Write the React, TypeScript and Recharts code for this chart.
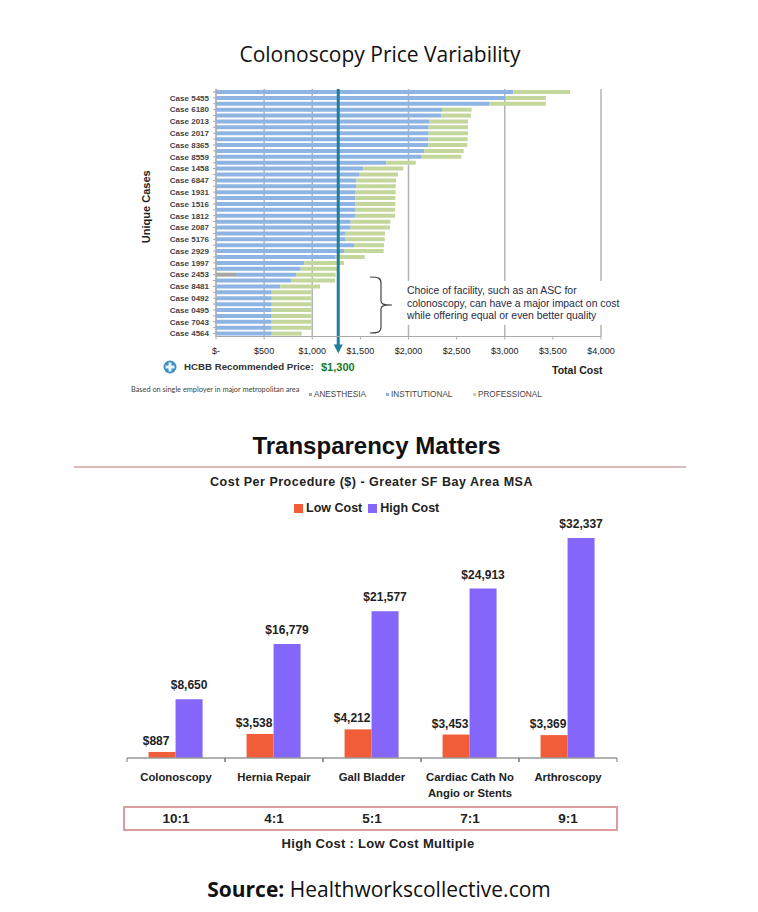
import React from 'react';
import {
  BarChart,
  Bar,
  XAxis,
  YAxis,
  CartesianGrid,
  Legend,
  LabelList,
  ReferenceLine,
  Text,
} from 'recharts';

// top chart: 42 rows, only every second one is labelled
const caseLabels = [
  'Case 5455', 'Case 6180', 'Case 2013', 'Case 2017', 'Case 8365', 'Case 8559', 'Case 1458',
  'Case 6847', 'Case 1931', 'Case 1516', 'Case 1812', 'Case 2087', 'Case 5176', 'Case 2929',
  'Case 1997', 'Case 2453', 'Case 8481', 'Case 0492', 'Case 0495', 'Case 7043', 'Case 4564',
];
const institutional = [
  3089, 3010, 2837, 2348, 2341, 2213, 2210, 2210, 2206, 2206, 2164, 2137, 1769, 1530,
  1486, 1458, 1455, 1451, 1448, 1448, 1444, 1444, 1399, 1399, 1347, 1340, 1434, 1330,
  1243, 917, 880, 623, 779, 668, 579, 579, 579, 579, 579, 579, 579, 579,
];
const professional = [
  589, 419, 589, 308, 308, 405, 408, 408, 409, 405, 409, 412, 306, 416,
  405, 412, 412, 416, 415, 415, 416, 416, 412, 409, 409, 413, 311, 412,
  302, 413, 380, 412, 457, 413, 415, 415, 415, 415, 415, 415, 415, 311,
];
const anesthesia = [
  0, 0, 0, 0, 0, 0, 0, 0, 0, 0, 0, 0, 0, 0,
  0, 0, 0, 0, 0, 0, 0, 0, 0, 0, 0, 0, 0, 0,
  0, 0, 0, 208, 0, 0, 0, 0, 0, 0, 0, 0, 0, 0,
];
const costTicks = [0, 500, 1000, 1500, 2000, 2500, 3000, 3500, 4000];
const arrowAt = 1270;

// bottom chart
const procedures = ['Colonoscopy', 'Hernia Repair', 'Gall Bladder', 'Cardiac Cath No Angio or Stents', 'Arthroscopy'];
const lowCost = [887, 3538, 4212, 3453, 3369];
const highCost = [8650, 16779, 21577, 24913, 32337];
const multiples = ['10:1', '4:1', '5:1', '7:1', '9:1'];

const caseData = institutional.map((value, i) => ({
  label: i % 2 === 1 ? caseLabels[(i - 1) / 2] : '',
  anesthesia: anesthesia[i],
  institutional: value,
  professional: professional[i],
}));

const procedureData = procedures.map((name, i) => ({
  name,
  low: lowCost[i],
  high: highCost[i],
}));

const ARIAL = '"Liberation Sans", Arial, sans-serif';
const BAND = 98;

const money = (v: number) => `$${v.toLocaleString('en-US')}`;

function abs(left: number, top: number, extra: React.CSSProperties = {}): React.CSSProperties {
  return { position: 'absolute', left, top, whiteSpace: 'nowrap', ...extra };
}

// line running past the axis, ending in an arrow head
function ArrowLine(props: any) {
  const { x1, y1, y2 } = props;
  const top = Math.min(y1, y2);
  const bottom = Math.max(y1, y2);
  return (
    <g>
      <line x1={x1} x2={x1} y1={top} y2={bottom + 9} stroke="#1f7f9b" strokeWidth={3} />
      <polygon points={`${x1 - 4.5},${bottom + 8} ${x1 + 4.5},${bottom + 8} ${x1},${bottom + 17}`} fill="#1f7f9b" />
    </g>
  );
}

function CaseLegend(props: any) {
  const offsets = [0, 77, 164];
  return (
    <div style={{ position: 'relative', height: 10, width: 240 }}>
      {props.payload.map((item: any, i: number) => (
        <span key={item.value} style={abs(offsets[i], 0, { fontSize: 8.2, lineHeight: '10px', color: '#444' })}>
          <span style={{ display: 'inline-block', width: 3, height: 3, background: item.color, marginRight: 2, verticalAlign: 'middle' }} />
          {item.value}
        </span>
      ))}
    </div>
  );
}

function ProcedureLegend(props: any) {
  return (
    <div style={{ display: 'flex', fontSize: 12.5, fontWeight: 700, lineHeight: '14px', color: '#222' }}>
      {props.payload.map((item: any) => (
        <span key={item.value} style={{ display: 'flex', alignItems: 'center', marginRight: 6 }}>
          <span style={{ width: 9, height: 9, background: item.color, marginRight: 3 }} />
          {item.value}
        </span>
      ))}
    </div>
  );
}

// tick marks sit on the band edges, so they are drawn with the label
function ProcedureTick(props: any) {
  const { x, y, payload } = props;
  return (
    <g>
      <line x1={x - BAND / 2} x2={x - BAND / 2} y1={y - 8} y2={y - 4} stroke="#777" />
      <line x1={x + BAND / 2} x2={x + BAND / 2} y1={y - 8} y2={y - 4} stroke="#777" />
      <Text
        x={x}
        y={y + 7}
        width={112}
        textAnchor="middle"
        verticalAnchor="start"
        lineHeight={16}
        fontSize={11.3}
        fontWeight={700}
        fill="#222"
      >
        {payload.value}
      </Text>
    </g>
  );
}

export default function App() {
  return (
    <div style={{ position: 'absolute', left: 0, top: 0, width: 758, height: 912, background: '#fff', fontFamily: ARIAL, overflow: 'hidden' }}>
      <div style={abs(0, 40, { width: 760, textAlign: 'center', fontFamily: '"Open Sans"', fontSize: 21, lineHeight: '28px', color: '#111' })}>
        Colonoscopy Price Variability
      </div>

      <div style={abs(0, 0)}>
        <BarChart
          width={758}
          height={400}
          data={caseData}
          layout="vertical"
          barSize={4}
          margin={{ top: 89, right: 157, bottom: 33.5, left: 136 }}
        >
          <CartesianGrid horizontal={false} stroke="#b4b4b4" strokeWidth={1.5} />
          <XAxis
            type="number"
            domain={[0, 4000]}
            ticks={costTicks}
            height={30}
            tickFormatter={(v: number) => (v === 0 ? '$-' : money(v))}
            tick={{ fontSize: 9, fill: '#222' }}
            tickSize={3}
            tickMargin={8}
            stroke="#aaa"
          />
          <YAxis
            type="category"
            dataKey="label"
            width={80}
            interval={0}
            tick={{ fontSize: 8, fontWeight: 700, fill: '#444' }}
            tickSize={3}
            tickMargin={4}
            stroke="#aaa"
            label={{ value: 'Unique Cases', angle: -90, position: 'insideLeft', offset: 10, dy: -6, fontSize: 11, fontWeight: 700, fill: '#222', style: { textAnchor: 'middle' } }}
          />
          <Legend
            layout="horizontal"
            verticalAlign="middle"
            align="center"
            itemSorter={null}
            content={CaseLegend}
            wrapperStyle={{ left: 309, top: 390, width: 240 }}
          />
          <Bar dataKey="anesthesia" name="ANESTHESIA" stackId="cost" fill="#a6a6a6" isAnimationActive={false} />
          <Bar dataKey="institutional" name="INSTITUTIONAL" stackId="cost" fill="#8eb4e3" isAnimationActive={false} />
          <Bar dataKey="professional" name="PROFESSIONAL" stackId="cost" fill="#c3d69b" isAnimationActive={false} />
          <ReferenceLine x={arrowAt} ifOverflow="visible" shape={ArrowLine} />
        </BarChart>
      </div>

      {/* annotation box hides the gridlines behind its text */}
      <div style={abs(400, 281, { width: 226, height: 44, background: '#fff' })} />
      <div style={abs(407, 285, { fontSize: 10.4, lineHeight: '12.5px', color: '#1f2a44' })}>
        Choice of facility, such as an ASC for
        <br />
        colonoscopy, can have a major impact on cost
        <br />
        while offering equal or even better quality
      </div>
      <svg style={abs(368, 275)} width={26} height={60}>
        <path d="M2 2 C10 2 13 3 13 8 L13 26 C13 29 15 30 24 30 C15 30 13 31 13 34 L13 52 C13 57 10 58 2 58" fill="none" stroke="#444" strokeWidth={1.2} />
      </svg>

      <svg style={abs(163, 360)} width={14} height={14}>
        <circle cx={7} cy={7} r={6.5} fill="#3d8fc4" />
        <path d="M7 2.5 V11.5 M2.5 7 H11.5" stroke="#e4f2fa" strokeWidth={3} />
      </svg>
      <div style={abs(184, 360, { fontSize: 9.7, lineHeight: '14px', fontWeight: 700, color: '#333' })}>HCBB Recommended Price:</div>
      <div style={abs(321, 360, { fontSize: 11, lineHeight: '14px', fontWeight: 700, color: '#1c7a1c' })}>$1,300</div>
      <div style={abs(552, 364, { fontSize: 10.5, lineHeight: '13px', fontWeight: 700, color: '#222' })}>Total Cost</div>
      <div style={abs(131, 386, { fontFamily: 'Lato', fontSize: 7.35, lineHeight: '8px', color: '#444' })}>
        Based on single employer in major metropolitan area
      </div>

      <div style={abs(0, 431, { width: 753, textAlign: 'center', fontSize: 24, lineHeight: '30px', fontWeight: 700, color: '#111' })}>
        Transparency Matters
      </div>
      <div style={abs(74, 466, { width: 612, height: 2, background: '#dcb9b9' })} />
      <div style={abs(0, 475, { width: 743, textAlign: 'center', fontSize: 12.5, lineHeight: '14px', fontWeight: 700, letterSpacing: 0.5, color: '#222' })}>
        Cost Per Procedure ($) - Greater SF Bay Area MSA
      </div>

      <div style={abs(0, 400)}>
        <BarChart
          width={758}
          height={440}
          data={procedureData}
          barCategoryGap="22%"
          barGap={0}
          margin={{ top: 86, right: 141, bottom: 42, left: 127 }}
        >
          <XAxis dataKey="name" height={40} interval={0} tick={ProcedureTick} tickLine={false} stroke="#999" strokeWidth={1.5} />
          <YAxis hide domain={[0, 40000]} />
          <Legend
            layout="horizontal"
            verticalAlign="middle"
            align="center"
            itemSorter={null}
            content={ProcedureLegend}
            wrapperStyle={{ left: 294, top: 101, width: 160 }}
          />
          <Bar dataKey="low" name="Low Cost" fill="#f15d38" isAnimationActive={false}>
            <LabelList dataKey="low" position="top" dx={-6} offset={7} formatter={money} fontSize={12} fontWeight={700} fill="#222" />
          </Bar>
          <Bar dataKey="high" name="High Cost" fill="#8566fb" isAnimationActive={false}>
            <LabelList dataKey="high" position="top" offset={10} formatter={money} fontSize={12} fontWeight={700} fill="#222" />
          </Bar>
        </BarChart>
      </div>

      <div style={abs(123, 806, { width: 495, height: 25, boxSizing: 'border-box', border: '2px solid #dd9ca0' })} />
      {multiples.map((m, i) => (
        <div key={m} style={abs(127 + BAND * i, 811, { width: BAND, textAlign: 'center', fontSize: 13.5, lineHeight: '16px', fontWeight: 700, color: '#222' })}>
          {m}
        </div>
      ))}
      <div style={abs(0, 836, { width: 756, textAlign: 'center', fontSize: 13, lineHeight: '16px', fontWeight: 700, letterSpacing: 0.3, color: '#222' })}>
        High Cost : Low Cost Multiple
      </div>
      <div style={abs(0, 875, { width: 758, textAlign: 'center', fontFamily: '"Open Sans"', fontSize: 21, lineHeight: '28px', color: '#111' })}>
        <b>Source:</b> Healthworkscollective.com
      </div>
    </div>
  );
}
